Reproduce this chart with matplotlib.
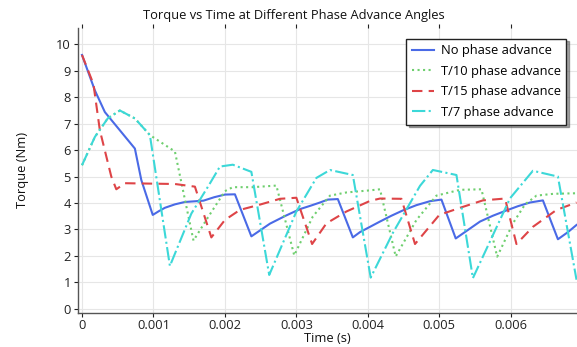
import matplotlib
matplotlib.use("Agg")
import matplotlib.pyplot as plt
import numpy as np

# Torque traces, time in ms, torque in Nm
t_none = [0.00, 0.18, 0.32, 0.53, 0.74, 0.83, 0.99, 1.08, 1.16, 1.30, 1.44, 1.60, 1.70, 1.85, 2.00, 2.14,
          2.37, 2.50, 2.63, 2.85, 3.05, 3.20, 3.33, 3.44, 3.58,
          3.79, 3.89, 4.03, 4.17, 4.33, 4.49, 4.68, 4.87, 5.03,
          5.23, 5.40, 5.57, 5.75, 5.94, 6.10, 6.27, 6.45,
          6.66, 6.80, 6.92]
y_none = [9.60, 8.26, 7.44, 6.75, 6.06, 4.87, 3.55, 3.70, 3.82, 3.95, 4.04, 4.07, 4.09, 4.22, 4.32, 4.33,
          2.74, 2.98, 3.22, 3.52, 3.77, 3.90, 4.02, 4.13, 4.15,
          2.70, 2.90, 3.10, 3.30, 3.52, 3.72, 3.92, 4.07, 4.13,
          2.66, 2.98, 3.30, 3.52, 3.72, 3.88, 4.02, 4.10,
          2.63, 2.90, 3.17]

t_t10 = [0.00, 0.18, 0.36, 0.53, 0.74, 0.95, 1.30, 1.56, 1.77, 2.00, 2.11, 2.39, 2.72,
         2.97, 3.23, 3.47, 3.70, 4.03, 4.17,
         4.39, 4.68, 4.96, 5.29, 5.59,
         5.81, 6.03, 6.20, 6.36, 6.60, 6.92]
y_t10 = [5.43, 6.50, 7.20, 7.50, 7.20, 6.57, 5.95, 2.58, 3.49, 4.45, 4.60, 4.60, 4.66,
         2.02, 3.49, 4.28, 4.40, 4.48, 4.52,
         1.98, 3.36, 4.28, 4.50, 4.52,
         1.97, 3.23, 3.95, 4.28, 4.35, 4.37]

t_t15 = [0.00, 0.16, 0.25, 0.41, 0.48, 0.60, 0.83, 1.30, 1.58,
         1.81, 2.00, 2.21, 2.49, 2.77, 3.00,
         3.22, 3.42, 3.70, 4.03, 4.17, 4.47,
         4.66, 5.00, 5.29, 5.61, 5.92,
         6.08, 6.31, 6.64, 6.92]
y_t15 = [9.60, 8.50, 6.75, 5.00, 4.52, 4.75, 4.74, 4.72, 4.62,
         2.70, 3.36, 3.74, 3.94, 4.16, 4.20,
         2.45, 3.23, 3.68, 4.08, 4.17, 4.16,
         2.45, 3.55, 3.82, 4.10, 4.17,
         2.45, 3.10, 3.74, 4.02]

t_t7 = [0.00, 0.18, 0.36, 0.53, 0.74, 0.95, 1.23, 1.53, 1.77, 1.93, 2.11, 2.37,
        2.62, 3.00, 3.28, 3.47, 3.79,
        4.04, 4.35, 4.73, 4.91, 5.24,
        5.47, 5.99, 6.31, 6.66,
        6.92]
y_t7 = [5.43, 6.50, 7.20, 7.50, 7.20, 6.57, 1.62, 3.60, 4.65, 5.38, 5.45, 5.18,
        1.28, 3.68, 4.95, 5.25, 5.06,
        1.18, 2.87, 4.65, 5.25, 5.06,
        1.16, 4.18, 5.22, 5.00,
        1.10]

series = [
    ("No phase advance", t_none, y_none, "#4a6ae6", "-", 1.5),
    ("T/10 phase advance", t_t10, y_t10, "#6fcf6f", ":", 1.5),
    ("T/15 phase advance", t_t15, y_t15, "#de4447", (0, (5, 3)), 1.5),
    ("T/7 phase advance", t_t7, y_t7, "#3cd8d8", "-.", 1.5),
]

x_ticks = [0, 0.001, 0.002, 0.003, 0.004, 0.005, 0.006]
x_tick_labels = ["0", "0.001", "0.002", "0.003", "0.004", "0.005", "0.006"]
y_ticks = list(range(0, 11))

plt.rcParams["font.family"] = ["Open Sans", "DejaVu Sans"]
plt.rcParams["font.weight"] = "medium"
FS = 9.3
fig = plt.figure(figsize=(5.77, 3.47), dpi=100)
ax = fig.add_axes([78 / 577, 1 - 312.5 / 347, (576.5 - 78) / 577, (312.5 - 28) / 347])

for label, t, y, color, ls, lw in series:
    ax.plot(np.array(t) * 1e-3, y, color=color, linestyle=ls, linewidth=lw, label=label)

ax.set_xlim(-0.056e-3, 6.92e-3)
ax.set_ylim(-0.14, 10.62)
ax.set_xticks(x_ticks)
ax.set_xticklabels(x_tick_labels)
ax.set_yticks(y_ticks)
ax.grid(True, color="#e6e6e6", linewidth=0.8)
ax.set_axisbelow(True)

ax.tick_params(axis="both", labelsize=FS, colors="#222222", length=3, width=0.8, pad=2)
ax.tick_params(axis="both", which="both", top=True, right=True, labeltop=False, labelright=False)
for side in ("top", "right"):
    ax.spines[side].set_visible(False)
for side in ("left", "bottom"):
    ax.spines[side].set_color("#555555")
    ax.spines[side].set_linewidth(1.0)

ax.set_xlabel("Time (s)", fontsize=FS, labelpad=0, color="#111111")
ax.set_ylabel("Torque (Nm)", fontsize=FS, labelpad=20, color="#111111")
fig.text(294 / 577, 1 - 16 / 347, "Torque vs Time at Different Phase Advance Angles",
         fontsize=FS, ha="center", va="center", color="#111111")

leg = ax.legend(loc="upper right", bbox_to_anchor=(0.985, 0.972), fontsize=FS, frameon=True,
                fancybox=False, shadow=True, borderpad=0.45, handlelength=1.7,
                labelspacing=0.58, handletextpad=0.5, borderaxespad=0.2)
leg.get_frame().set_edgecolor("#222222")
leg.get_frame().set_linewidth(1.0)

fig.savefig("out.png", dpi=100)
